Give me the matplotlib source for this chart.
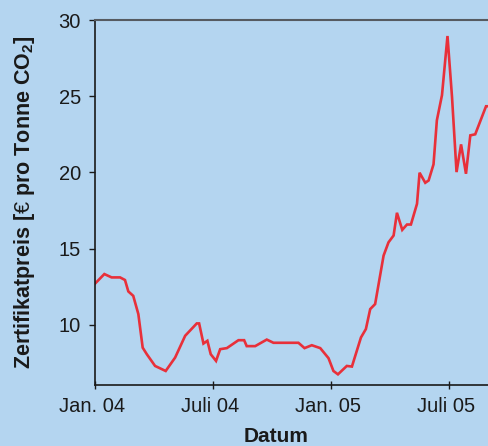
import matplotlib
matplotlib.use("Agg")
import matplotlib.pyplot as plt
import matplotlib.transforms as mtransforms

plt.rcParams['font.family'] = ['Liberation Sans', 'DejaVu Sans']
plt.rcParams['mathtext.fontset'] = 'custom'
plt.rcParams['mathtext.rm'] = 'Liberation Sans'
plt.rcParams['mathtext.bf'] = 'Liberation Sans:bold'

# months since Jan 2004
months = [0.0, 0.49, 0.86, 1.29, 1.54, 1.71, 1.96, 2.22, 2.44, 2.65, 3.07, 3.61,
          4.09, 4.6, 5.19, 5.31, 5.53, 5.73, 5.9, 6.17, 6.38, 6.72, 7.31, 7.6,
          7.73, 8.16, 8.75, 9.09, 10.36, 10.67, 11.04, 11.47, 11.89, 12.14, 12.37,
          12.82, 13.08, 13.54, 13.79, 14.01, 14.26, 14.69, 14.94, 15.2, 15.37,
          15.64, 15.88, 16.08, 16.39, 16.52, 16.81, 16.98, 17.23, 17.4, 17.66,
          17.94, 18.17, 18.4, 18.63, 18.88, 19.1, 19.35, 19.9, 20.0]
prices = [12.68, 13.33, 13.11, 13.11, 12.94, 12.19, 11.9, 10.7, 8.5, 8.07, 7.3, 6.97,
          7.85, 9.28, 10.09, 10.09, 8.77, 8.95, 8.07, 7.63, 8.4, 8.47, 8.99, 8.99,
          8.6, 8.6, 9.03, 8.82, 8.82, 8.47, 8.66, 8.47, 7.81, 6.97, 6.75,
          7.3, 7.26, 9.17, 9.72, 11.03, 11.36, 14.54, 15.41, 15.86, 17.35,
          16.23, 16.58, 16.58, 17.94, 19.98, 19.32, 19.47, 20.53, 23.42, 25.07,
          28.95, 24.95, 20.02, 21.84, 19.91, 22.43, 22.5, 24.34, 24.34]

tick_pos = [0, 6, 12, 18]
tick_labels = ["Jan. 04", "Juli 04", "Jan. 05", "Juli 05"]
y_ticks = [10, 15, 20, 25, 30]

bg = '#b4d5f0'
fig = plt.figure(figsize=(4.88, 4.46), dpi=100, facecolor=bg)
ax = fig.add_axes([94.7/488, 1-385/446, 1-94.7/488, (385-20)/446])
ax.set_facecolor(bg)

ax.plot(months, prices, color='#e8303a', lw=1.9, solid_joinstyle='miter')

ax.set_xlim(0, 20)
ax.set_ylim(6.05, 30)
ax.set_xticks(tick_pos)
ax.set_xticklabels(tick_labels)
ax.set_yticks(y_ticks)

ax.spines['right'].set_visible(False)
ax.spines['top'].set_color('#565b61')
ax.spines['top'].set_linewidth(1.5)
for s in ['left', 'bottom']:
    ax.spines[s].set_color('#1a1a1a')
    ax.spines[s].set_linewidth(1.2)

ax.tick_params(axis='y', direction='out', length=4, width=1, pad=6, labelsize=14.5, colors='#1a1a1a')
ax.tick_params(axis='x', direction='inout', length=6, width=1, pad=6, labelsize=14.5, colors='#1a1a1a')

offset = mtransforms.ScaledTranslation(-3/100, 0, fig.dpi_scale_trans)
for lab in ax.get_xticklabels():
    lab.set_transform(lab.get_transform() + offset)

ax.set_ylabel(r"Zertifikatpreis [$\mathrm{€}$ pro Tonne CO$_\mathbf{2}$]", fontsize=15.5, fontweight='bold', color='#1a1a1a')
ax.yaxis.set_label_coords(-0.147, 0.5)
fig.text(276.5/488, 1-437/446, "Datum", fontsize=15, fontweight='bold', ha='center', va='center', color='#1a1a1a')

fig.savefig("out.png", dpi=100, facecolor=bg)
